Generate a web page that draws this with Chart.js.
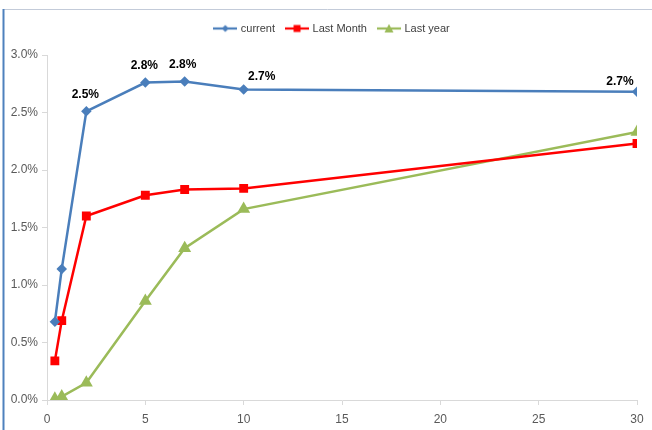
<!DOCTYPE html>
<html>
<head>
<meta charset="utf-8">
<script src="https://cdn.jsdelivr.net/npm/chart.js@4.4.1/dist/chart.umd.min.js"></script>
<style>
  html, body { margin: 0; padding: 0; background: #fff; }
  #wrap { width: 652px; height: 430px; position: relative; }
</style>
</head>
<body>
<div id="wrap"><canvas id="chart" width="652" height="430"></canvas></div>
<script>
// maturities (years) and yields in percent
const maturities = [0.4, 0.75, 2, 5, 7, 10, 30];
const currentYield = [0.68, 1.14, 2.51, 2.76, 2.77, 2.70, 2.68];
const lastMonthYield = [0.34, 0.69, 1.60, 1.78, 1.83, 1.84, 2.23];
const lastYearYield = [0.01, 0.03, 0.15, 0.86, 1.32, 1.66, 2.33];
const seriesNames = ['current', 'Last Month', 'Last year'];
const xTicks = [0, 5, 10, 15, 20, 25, 30];
const yTicks = [0, 0.5, 1.0, 1.5, 2.0, 2.5, 3.0];

// which points of "current" get a value label, and nudge for each
const labelled = [2, 3, 4, 5, 6];
const labelNudge = [[-1, -17], [-1, -17], [-2, -17], [18, -13], [-17, -10]];

const BLUE = '#4a7ebb';
const RED = '#ff0000';
const GREEN = '#9bbb59';
const AXIS = '#d9d9d9';
const FONT = "'Liberation Sans', Arial, sans-serif";

function pts(vals) {
  return maturities.map((m, i) => ({ x: m, y: vals[i] }));
}

// small line+marker swatch for the legend
function swatch(color, style) {
  const c = document.createElement('canvas');
  c.width = 24; c.height = 10;
  const g = c.getContext('2d');
  g.strokeStyle = color; g.lineWidth = 2.2;
  g.beginPath(); g.moveTo(0, 5); g.lineTo(24, 5); g.stroke();
  g.fillStyle = color;
  g.beginPath();
  if (style === 'diamond') {
    g.moveTo(12, 1.5); g.lineTo(15.5, 5); g.lineTo(12, 8.5); g.lineTo(8.5, 5);
  } else if (style === 'square') {
    g.rect(8.5, 1.5, 7, 7);
  } else {
    g.moveTo(12, 0.5); g.lineTo(16.5, 9); g.lineTo(7.5, 9);
  }
  g.closePath(); g.fill();
  return c;
}
const swatches = [swatch(BLUE, 'diamond'), swatch(RED, 'square'), swatch(GREEN, 'triangle')];

const frame = {
  id: 'frame',
  beforeDraw(chart) {
    const ctx = chart.ctx;
    ctx.save();
    ctx.strokeStyle = '#c3cbd9';
    ctx.lineWidth = 1;
    ctx.beginPath(); ctx.moveTo(3, 9.5); ctx.lineTo(652, 9.5); ctx.stroke();
    ctx.strokeStyle = '#4f81bd';
    ctx.lineWidth = 2;
    ctx.beginPath(); ctx.moveTo(3.5, 9); ctx.lineTo(3.5, 430); ctx.stroke();
    ctx.restore();
  }
};

const valueLabels = {
  id: 'valueLabels',
  afterDatasetsDraw(chart) {
    const ctx = chart.ctx;
    const meta = chart.getDatasetMeta(0);
    ctx.save();
    ctx.font = "bold 12px " + FONT;
    ctx.fillStyle = '#000';
    ctx.textAlign = 'center';
    ctx.textBaseline = 'middle';
    labelled.forEach((idx, k) => {
      const p = meta.data[idx];
      ctx.fillText(currentYield[idx].toFixed(1) + '%', p.x + labelNudge[k][0], p.y + labelNudge[k][1]);
    });
    ctx.restore();
  }
};

// extra room under the legend, and nudge it right like the original
const legendGap = {
  id: 'legendGap',
  beforeInit(chart) {
    const fit = chart.legend.fit;
    chart.legend.fit = function () {
      fit.bind(chart.legend)();
      this.height += 11;
    };
  },
  afterLayout(chart) {
    chart.legend.left += 14;
    chart.legend.right += 14;
  }
};

new Chart(document.getElementById('chart'), {
  type: 'line',
  data: {
    datasets: [
      {
        label: seriesNames[0], data: pts(currentYield),
        borderColor: BLUE, backgroundColor: BLUE, borderWidth: 2.5,
        pointStyle: 'rectRot', pointRadius: 3.5, tension: 0
      },
      {
        label: seriesNames[1], data: pts(lastMonthYield),
        borderColor: RED, backgroundColor: RED, borderWidth: 2.5,
        pointStyle: 'rect', pointRadius: 4.5, tension: 0
      },
      {
        label: seriesNames[2], data: pts(lastYearYield),
        borderColor: GREEN, backgroundColor: GREEN, borderWidth: 2.5,
        pointStyle: 'triangle', pointRadius: 5, tension: 0
      }
    ]
  },
  options: {
    responsive: false,
    animation: false,
    devicePixelRatio: 1,
    layout: { padding: { left: 0, right: 15, top: 11, bottom: 0 } },
    plugins: {
      tooltip: { enabled: false },
      legend: {
        position: 'top',
        labels: {
          usePointStyle: true,
          pointStyleWidth: 20,
          padding: 12,
          color: '#404040',
          font: { family: FONT, size: 11 },
          generateLabels(chart) {
            return chart.data.datasets.map((ds, i) => ({
              text: ds.label,
              pointStyle: swatches[i],
              fillStyle: ds.borderColor,
              strokeStyle: ds.borderColor,
              lineWidth: 0,
              fontColor: '#404040',
              datasetIndex: i,
              hidden: false
            }));
          }
        }
      }
    },
    scales: {
      x: {
        type: 'linear',
        min: 0, max: 30,
        afterBuildTicks(scale) { scale.ticks = xTicks.map(v => ({ value: v })); },
        afterFit(scale) { scale.height = 30; },
        grid: { drawOnChartArea: false, drawTicks: true, tickLength: 5, color: AXIS },
        border: { color: AXIS, width: 1 },
        ticks: { color: '#595959', font: { family: FONT, size: 12 }, padding: 7, maxRotation: 0 }
      },
      y: {
        min: 0, max: 3,
        afterBuildTicks(scale) { scale.ticks = yTicks.map(v => ({ value: v })); },
        afterFit(scale) { scale.width = 47; },
        grid: { drawOnChartArea: false, drawTicks: true, tickLength: 5, color: AXIS },
        border: { color: AXIS, width: 1 },
        ticks: {
          color: '#595959', font: { family: FONT, size: 12 }, padding: 4,
          callback: v => v.toFixed(1) + '%'
        }
      }
    }
  },
  plugins: [frame, valueLabels, legendGap]
});
</script>
</body>
</html>
